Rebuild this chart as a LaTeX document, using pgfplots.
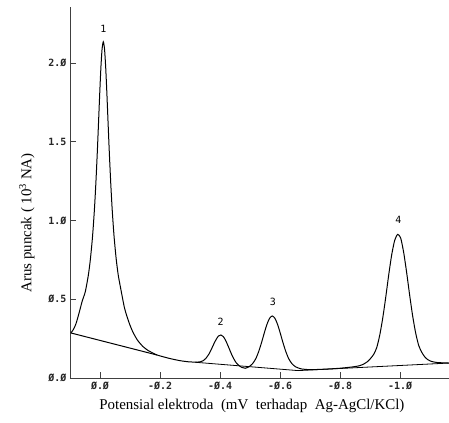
\documentclass[border=0pt]{standalone}
\usepackage{fontspec}
\setmainfont{Liberation Serif}
\newfontfamily\tickfont{DejaVu Sans Mono}
\usepackage{pgfplots}
\pgfplotsset{compat=1.18}
\begin{document}
\begin{tikzpicture}
\begin{axis}[
  at={(0,0)}, anchor=south west,
  scale only axis, width=379bp, height=371bp,
  x dir=reverse,
  xmin=-1.163, xmax=0.1, ymin=0, ymax=2.356,
  axis x line*=bottom, axis y line*=left,
  axis line style={black!75, line width=0.8bp},
  tick style={black!75, line width=0.8bp},
  tick align=inside, major tick length=6bp,
  xtick={0,-0.2,-0.4,-0.6,-0.8,-1.0},
  xticklabels={Ø.Ø,-Ø.2,-Ø.4,-Ø.6,-Ø.8,-1.Ø},
  ytick={0,0.5,1.0,1.5,2.0},
  yticklabels={Ø.Ø,Ø.5,1.Ø,1.5,2.Ø},
  ticklabel style={font=\tickfont\bfseries\fontsize{10}{12}\selectfont, text=black!85},
  xlabel={Potensial elektroda~~(mV~~terhadap~~Ag-AgCl/KCl)},
  ylabel={Arus puncak ( 10\textsuperscript{3} NA)},
  label style={font=\fontsize{15}{18}\selectfont},
  xlabel style={at={(axis description cs:0.48,-0.0755)}, anchor=center},
  ylabel style={at={(axis description cs:-0.1135,0.418)}, anchor=center},
]
\addplot[black, line width=1bp, smooth, tension=0.4] coordinates {
(0.097,0.286) (0.088,0.310) (0.080,0.345) (0.073,0.39) (0.066,0.44)
(0.059,0.49) (0.049,0.548) (0.039,0.651) (0.032,0.755) (0.025,0.896)
(0.019,1.058) (0.014,1.229) (0.009,1.434) (0.005,1.617) (0.001,1.804)
(-0.003,1.972) (-0.007,2.092) (-0.011,2.135) (-0.015,2.092) (-0.019,1.972)
(-0.023,1.804) (-0.027,1.617) (-0.031,1.434) (-0.036,1.229) (-0.041,1.058)
(-0.047,0.896) (-0.054,0.755) (-0.061,0.651) (-0.071,0.548) (-0.081,0.45)
(-0.090,0.39) (-0.100,0.335) (-0.110,0.29) (-0.125,0.24) (-0.143,0.20)
(-0.160,0.175) (-0.177,0.158) (-0.190,0.146) (-0.230,0.125) (-0.267,0.110)
(-0.300,0.102) (-0.333,0.102) (-0.343,0.109) (-0.353,0.125) (-0.363,0.152)
(-0.371,0.182) (-0.379,0.215) (-0.387,0.245) (-0.395,0.267) (-0.403,0.273)
(-0.411,0.263) (-0.419,0.237) (-0.427,0.203) (-0.435,0.166) (-0.443,0.132)
(-0.453,0.099) (-0.463,0.079) (-0.473,0.067) (-0.484,0.062) (-0.496,0.071)
(-0.508,0.090) (-0.519,0.122) (-0.529,0.169) (-0.538,0.223) (-0.547,0.283)
(-0.556,0.339) (-0.565,0.379) (-0.574,0.394) (-0.583,0.379) (-0.592,0.339)
(-0.601,0.283) (-0.610,0.223) (-0.619,0.169) (-0.629,0.122) (-0.640,0.090)
(-0.652,0.071) (-0.670,0.058) (-0.700,0.053) (-0.750,0.056) (-0.800,0.062)
(-0.840,0.070) (-0.865,0.078) (-0.880,0.090) (-0.892,0.105) (-0.902,0.125)
(-0.912,0.150) (-0.922,0.192) (-0.932,0.270) (-0.942,0.378) (-0.952,0.510)
(-0.962,0.653) (-0.972,0.782) (-0.982,0.874) (-0.992,0.912) (-1.002,0.889)
(-1.012,0.797) (-1.022,0.668) (-1.032,0.525) (-1.042,0.393) (-1.052,0.285)
(-1.062,0.207) (-1.072,0.164) (-1.082,0.135) (-1.092,0.117) (-1.105,0.105)
(-1.125,0.098) (-1.163,0.095)
};
\addplot[black, line width=1bp] coordinates {(0.097,0.286) (-0.19,0.146)};
\addplot[black, line width=0.8bp] coordinates {(-0.317,0.100) (-0.66,0.047) (-1.163,0.095)};
\node[font=\tickfont\fontsize{10}{12}\selectfont] at (axis cs:-0.011,2.216) {1};
\node[font=\tickfont\fontsize{10}{12}\selectfont] at (axis cs:-0.402,0.357) {2};
\node[font=\tickfont\fontsize{10}{12}\selectfont] at (axis cs:-0.576,0.484) {3};
\node[font=\tickfont\fontsize{10}{12}\selectfont] at (axis cs:-0.994,1.003) {4};
\end{axis}
\pgfresetboundingbox
\path (-70bp,-45bp) rectangle (379bp,378bp);
\end{tikzpicture}
\end{document}
